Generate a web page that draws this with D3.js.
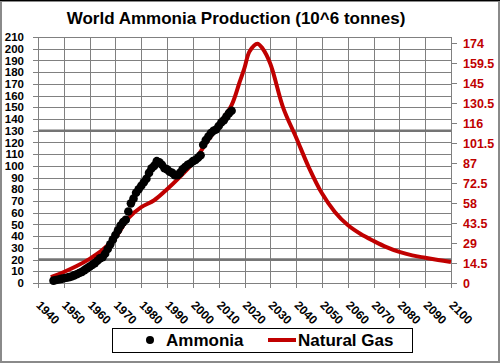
<!DOCTYPE html>
<html>
<head>
<meta charset="utf-8">
<script src="https://cdn.jsdelivr.net/npm/d3@7/dist/d3.min.js"></script>
<style>
  body { margin: 0; background: #fff; }
  svg text { font-family: "Liberation Sans", Arial, sans-serif; font-weight: bold; }
</style>
</head>
<body>
<svg id="chart"></svg>
<script>
// ammonia production, 10^6 tonnes, one value per year from 1946
const ammoniaStart = 1946;
const ammoniaValues = [
    2, 2.5, 3, 3.5, 4, 4.5, 5, 5.5, 6.5, 7.5,
    8.5, 9.5, 11, 12.5, 14, 15.5, 17, 19, 21, 22,
    25, 29, 33, 37, 41, 45, 49, 52, 54, 61,
    68, 72, 77, 80, 83, 86, 89, 94, 98, 100,
    104, 103, 101, 98, 97, 95, 94, 92, 92, 94,
    97, 99, 101, 102, 104, 105, 107, 109, 118, 122,
    125, 128, 130, 131, 134, 137, 139, 142, 145, 147
];

// natural gas curve (right axis units)
const gasYears = [1945, 1950, 1955, 1960, 1965, 1970, 1975, 1980, 1985, 1990,
    1995, 2000, 2005, 2010, 2015, 2018, 2020, 2022, 2025, 2027, 2030, 2035,
    2040, 2045, 2050, 2055, 2060, 2065, 2070, 2075, 2080, 2085, 2090, 2095, 2100];
const gasValues = [4.3, 8, 12.3, 17.5, 24, 33, 47, 55, 60, 68,
    77, 87, 101, 114.5, 129, 145, 156, 168, 173.5, 170, 159, 127,
    105.5, 83.5, 65, 51.5, 42, 35.5, 30.5, 26, 22.5, 20, 18.3, 16.7, 15.2];

const yearTicks = [1940, 1950, 1960, 1970, 1980, 1990, 2000, 2010, 2020,
    2030, 2040, 2050, 2060, 2070, 2080, 2090, 2100];
const leftTicks = [0, 10, 20, 30, 40, 50, 60, 70, 80, 90, 100, 110, 120, 130,
    140, 150, 160, 170, 180, 190, 200, 210];
const rightTicks = [0, 14.5, 29, 43.5, 58, 72.5, 87, 101.5, 116, 130.5, 145, 159.5, 174];
const darkLines = [20, 130];

const width = 500, height = 363;
const plot = { left: 38, right: 451, top: 37, bottom: 283 };
const red = "#c00000";
const gridColor = "#808080";

const svg = d3.select("#chart").attr("width", width).attr("height", height);

svg.append("rect")
    .attr("x", 1).attr("y", 1)
    .attr("width", width - 2).attr("height", height - 2)
    .attr("fill", "#fff")
    .attr("stroke", "#8a8a8a")
    .attr("stroke-width", 2);
svg.append("line")
    .attr("x1", 0).attr("x2", width).attr("y1", 0.5).attr("y2", 0.5)
    .attr("stroke", "#000");

const x = d3.scaleLinear().domain([1940, 2100]).range([plot.left, plot.right]);
const yLeft = d3.scaleLinear().domain([0, 210]).range([plot.bottom, plot.top]);
const yRight = d3.scaleLinear().domain([0, 174]).range([plot.bottom, 43]);

// grid
svg.append("g").selectAll("line")
    .data(yearTicks)
    .enter().append("line")
    .attr("x1", d => Math.round(x(d)) + 0.5).attr("x2", d => Math.round(x(d)) + 0.5)
    .attr("y1", plot.top).attr("y2", plot.bottom + 5)
    .attr("stroke", gridColor);

svg.append("g").selectAll("line")
    .data(leftTicks)
    .enter().append("line")
    .attr("x1", plot.left - 5).attr("x2", plot.right)
    .attr("y1", d => Math.round(yLeft(d)) + 0.5).attr("y2", d => Math.round(yLeft(d)) + 0.5)
    .attr("stroke", gridColor);

svg.append("g").selectAll("line")
    .data(darkLines)
    .enter().append("line")
    .attr("x1", plot.left).attr("x2", plot.right)
    .attr("y1", d => yLeft(d)).attr("y2", d => yLeft(d))
    .attr("stroke", "#747474")
    .attr("stroke-width", 2.5);

// axes (labels only, grid drawn above)
const leftAxis = svg.append("g")
    .attr("transform", `translate(${plot.left},0)`)
    .call(d3.axisLeft(yLeft).tickValues(leftTicks).tickSize(0).tickPadding(14));
leftAxis.select(".domain").remove();
leftAxis.selectAll("text").style("font-size", "11.5px").attr("fill", "#000");

const rightAxis = svg.append("g")
    .attr("transform", `translate(${plot.right},0)`)
    .call(d3.axisRight(yRight).tickValues(rightTicks).tickSize(6).tickPadding(6)
        .tickFormat(d => String(d)));
rightAxis.select(".domain").remove();
rightAxis.selectAll("line").attr("stroke", gridColor);
rightAxis.selectAll("text").style("font-size", "12.5px").attr("fill", red);

const bottomAxis = svg.append("g")
    .attr("transform", `translate(0,${plot.bottom})`)
    .call(d3.axisBottom(x).tickValues(yearTicks).tickSize(0).tickFormat(d3.format("d")));
bottomAxis.select(".domain").remove();
bottomAxis.selectAll("text")
    .attr("x", 0).attr("y", 0).attr("dy", 0)
    .attr("transform", "translate(-3,23) rotate(45)")
    .style("text-anchor", "start")
    .style("font-size", "12px")
    .attr("fill", "#000");

// natural gas line
const gasPoints = gasYears.map((year, i) => ({ year, value: gasValues[i] }));
svg.append("path")
    .datum(gasPoints)
    .attr("fill", "none")
    .attr("stroke", red)
    .attr("stroke-width", 4)
    .attr("stroke-linejoin", "round")
    .attr("d", d3.line()
        .x(d => x(d.year))
        .y(d => yRight(d.value))
        .curve(d3.curveCatmullRom.alpha(0.5)));

// ammonia dots
const ammoniaPoints = ammoniaValues.map((value, i) => ({ year: ammoniaStart + i, value }));
svg.append("g").selectAll("circle")
    .data(ammoniaPoints)
    .enter().append("circle")
    .attr("cx", d => x(d.year))
    .attr("cy", d => yLeft(d.value))
    .attr("r", 4.3)
    .attr("fill", "#000");

// title
svg.append("text")
    .attr("x", 236).attr("y", 24)
    .attr("text-anchor", "middle")
    .style("font-size", "17px")
    .text("World Ammonia Production (10^6 tonnes)");

// legend
const legend = svg.append("g");
legend.append("rect")
    .attr("x", 112.5).attr("y", 328.5)
    .attr("width", 300).attr("height", 24)
    .attr("fill", "#fff").attr("stroke", "#000");
legend.append("circle")
    .attr("cx", 150).attr("cy", 340).attr("r", 4).attr("fill", "#000");
legend.append("text")
    .attr("x", 166).attr("y", 346)
    .style("font-size", "17px")
    .text("Ammonia");
legend.append("line")
    .attr("x1", 268).attr("x2", 296).attr("y1", 340).attr("y2", 340)
    .attr("stroke", red).attr("stroke-width", 4);
legend.append("text")
    .attr("x", 298).attr("y", 346)
    .style("font-size", "17px")
    .text("Natural Gas");
</script>
</body>
</html>
